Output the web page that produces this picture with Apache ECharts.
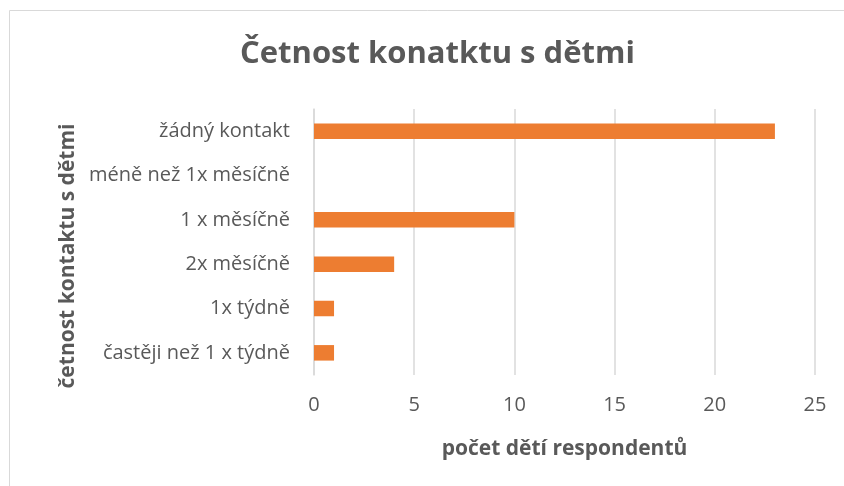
<!DOCTYPE html>
<html>
<head>
<meta charset="utf-8">
<script src="https://cdn.jsdelivr.net/npm/echarts@6/dist/echarts.min.js"></script>
<style>
  html, body { margin: 0; padding: 0; background: #fff; }
  #chart { width: 844px; height: 486px; }
</style>
</head>
<body>
<div id="chart"></div>
<script>
// kategorie shora dolů
const categories = [
  'žádný kontakt',
  'méně než 1x měsíčně',
  '1 x měsíčně',
  '2x měsíčně',
  '1x týdně',
  'častěji než 1 x týdně'
]
const counts = [23, 0, 10, 4, 1, 1]
const xTicks = [0, 5, 10, 15, 20, 25]

const fontFamily = '"Open Sans", "Noto Sans", sans-serif'
const textColor = '#595959'
const gridColor = '#d9d9d9'

const chart = echarts.init(document.getElementById('chart'))
const option = {
  animation: false,
  textStyle: { fontFamily: fontFamily },
  title: {
    text: 'Četnost konatktu s dětmi',
    left: 235,
    top: 34,
    textStyle: { fontSize: 31, fontWeight: 'bold', color: textColor, fontFamily: fontFamily }
  },
  graphic: [
    {
      type: 'rect',
      shape: { x: 9.5, y: 10.5, width: 900, height: 600 },
      style: { fill: 'none', stroke: gridColor, lineWidth: 1 },
      silent: true
    }
  ],
  grid: { left: 314, right: 29, top: 109, bottom: 111 },
  xAxis: {
    type: 'value',
    min: xTicks[0],
    max: xTicks[xTicks.length - 1],
    interval: 5,
    name: 'počet dětí respondentů',
    nameLocation: 'middle',
    nameGap: 64,
    nameTextStyle: { fontSize: 21, fontWeight: 'bold', color: textColor },
    axisLine: { show: false },
    axisTick: { show: false },
    axisLabel: { fontSize: 20, color: textColor, margin: 20 },
    splitLine: { show: true, lineStyle: { color: gridColor, width: 1.5 } }
  },
  yAxis: {
    type: 'category',
    data: categories,
    inverse: true,
    name: 'četnost kontaktu s dětmi',
    nameLocation: 'middle',
    nameGap: 214,
    nameRotate: 90,
    nameTextStyle: { fontSize: 21, fontWeight: 'bold', color: textColor, padding: [0, 28, 0, 0] },
    axisLine: { show: true, lineStyle: { color: gridColor, width: 1.5 } },
    axisTick: { show: false },
    axisLabel: { fontSize: 20, color: textColor, margin: 24 }
  },
  series: [
    {
      type: 'bar',
      data: counts,
      barWidth: '35%',
      itemStyle: { color: '#ED7D31' }
    }
  ]
}
chart.setOption(option)
</script>
</body>
</html>
